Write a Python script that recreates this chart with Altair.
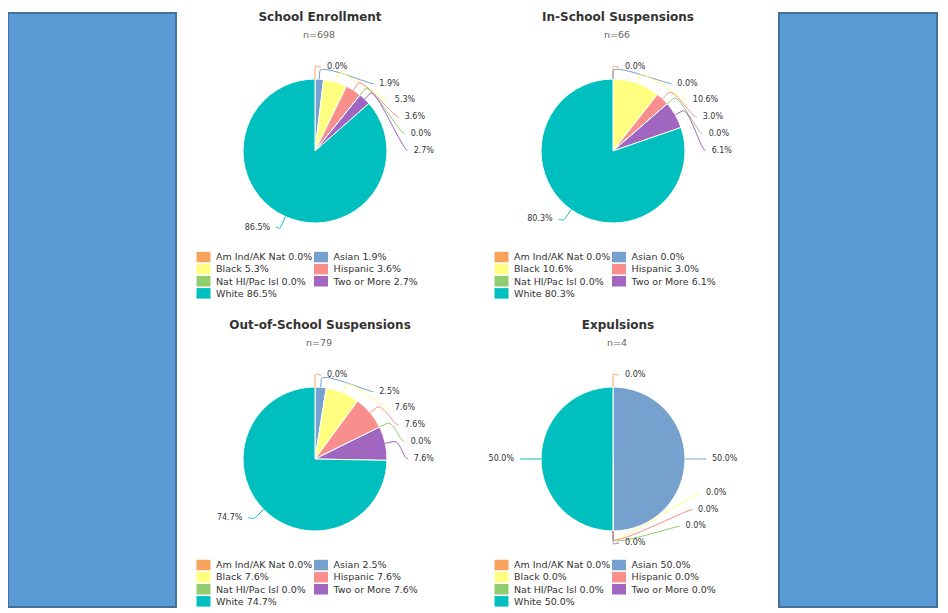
import math
import altair as alt
import pandas as pd

# ---------------- data ----------------
categories = ["Am Ind/AK Nat", "Asian", "Black", "Hispanic",
              "Nat HI/Pac Isl", "Two or More", "White"]
palette = ["#f8a35c", "#76a0ce", "#ffff80", "#f88f8c",
           "#90cd6e", "#a066c0", "#00bfbf"]
panel_titles = ["School Enrollment", "In-School Suspensions",
                "Out-of-School Suspensions", "Expulsions"]
panel_n = [698, 66, 79, 4]
enrollment_pct = [0.0, 1.9, 5.3, 3.6, 0.0, 2.7, 86.5]
in_school_pct = [0.0, 0.0, 10.6, 3.0, 0.0, 6.1, 80.3]
out_school_pct = [0.0, 2.5, 7.6, 7.6, 0.0, 7.6, 74.7]
expulsion_pct = [0.0, 50.0, 0.0, 0.0, 0.0, 0.0, 50.0]
series = [enrollment_pct, in_school_pct, out_school_pct, expulsion_pct]

# ---------------- layout constants (pixels) ----------------
W, H = 932, 600
centers = [(307, 143), (605, 143), (307, 451), (605, 451)]
R = 72            # pie radius
LABEL_RY = 84     # vertical reach of data labels
LABEL_RX = 99     # horizontal reach of moved data labels
NAT_R = 92        # natural label radius
STEP = 16.7       # min vertical distance between labels
FONT = "DejaVu Sans"

color_scale = alt.Scale(domain=categories, range=palette)

pie_rows, label_rows, conn_rows, leg_rows, title_rows = [], [], [], [], []

for p, (vals, (cx, cy)) in enumerate(zip(series, centers)):
    total = sum(vals)
    cum = 0.0
    items = []
    for i, v in enumerate(vals):
        pie_rows.append(dict(panel=p, idx=i, cat=categories[i], pct=v))
        a0 = cum / total * 2 * math.pi
        cum += v
        a1 = cum / total * 2 * math.pi
        am = (a0 + a1) / 2
        items.append(dict(i=i, am=am, right=am <= math.pi + 1e-9,
                          t=cy - LABEL_RY * math.cos(am)))
    for side in (True, False):
        grp = [o for o in items if o["right"] == side]
        grp.sort(key=lambda o: (round(o["t"], 6), o["am"] if side else -o["am"]))
        if not grp:
            continue
        lo, hi = cy - LABEL_RY, cy + LABEL_RY
        ys = []
        for o in grp:
            y = max(o["t"], lo)
            if ys:
                y = max(y, ys[-1] + STEP)
            ys.append(y)
        for k in range(len(ys) - 1, -1, -1):
            lim = hi if k == len(ys) - 1 else ys[k + 1] - STEP
            ys[k] = min(ys[k], lim)
        for k in range(len(ys)):
            lim = lo if k == 0 else ys[k - 1] + STEP
            ys[k] = max(ys[k], lim)
        sgn = 1 if side else -1
        for o, y in zip(grp, ys):
            am = o["am"]
            sa, ca = math.sin(am), math.cos(am)
            dy = y - cy
            if abs(y - o["t"]) < 0.5:
                if abs(sa) < 1e-6:
                    ex = cx + sgn * 12
                else:
                    ex = cx + NAT_R * sa + sgn * 7
            else:
                de = dy - 8 if dy < 0 else dy
                ex = cx + sgn * math.sqrt(max(LABEL_RX ** 2 - de ** 2, 0))
            i = o["i"]
            label_rows.append(dict(panel=p, cat=categories[i], right=side,
                                   lx=ex, ly=y, txt=f"{vals[i]:.1f}%"))
            # connector (soft bezier, Highcharts style)
            tx, ty = cx + R * sa, cy - R * ca
            bx, by = cx + (R + 8) * sa, cy - (R + 8) * ca
            p0x, p0y = ex - sgn * 6, y
            p1x, p1y = p0x - sgn * 5, p0y
            p2x, p2y = 2 * bx - tx, 2 * by - ty
            lid = f"{p}-{i}"
            n = 14
            for s in range(n + 1):
                t = s / n
                u = 1 - t
                qx = u**3 * p0x + 3 * u * u * t * p1x + 3 * u * t * t * p2x + t**3 * bx
                qy = u**3 * p0y + 3 * u * u * t * p1y + 3 * u * t * t * p2y + t**3 * by
                conn_rows.append(dict(lid=lid, seq=s, cat=categories[i], px=qx, py=qy))
            conn_rows.append(dict(lid=lid, seq=n + 1, cat=categories[i], px=tx, py=ty))
    # legend
    for i, v in enumerate(vals):
        row, col = divmod(i, 2)
        yc = cy + 106.3 + 12.1 * row
        sx = cx - 118.5 if col == 0 else cx - 1
        leg_rows.append(dict(panel=p, cat=categories[i],
                             x1=sx, x2=sx + 14, y1=yc - 5.5, y2=yc + 5,
                             tx=sx + 19.5, ty=yc,
                             txt=f"{categories[i]} {v:.1f}%"))
    title_rows.append(dict(panel=p, x=cx + 5, y=cy - 134, txt=panel_titles[p],
                           sx=cx + 4, sy=cy - 116, stxt=f"n={panel_n[p]}"))

pie_df = pd.DataFrame(pie_rows)
lab_df = pd.DataFrame(label_rows)
conn_df = pd.DataFrame(conn_rows)
leg_df = pd.DataFrame(leg_rows)
title_df = pd.DataFrame(title_rows)
side_df = pd.DataFrame(dict(x1=[0, 771], x2=[168, 929], y1=[5, 5], y2=[599, 599]))

xn = lambda f: alt.X(f"{f}:Q", scale=None, axis=None)
yn = lambda f: alt.Y(f"{f}:Q", scale=None, axis=None)

layers = []
layers.append(
    alt.Chart(side_df).mark_rect(fill="#5b9bd5", stroke="#41719c", strokeWidth=2)
    .encode(x=xn("x1"), x2="x2:Q", y=yn("y1"), y2="y2:Q")
)
for p, (cx, cy) in enumerate(centers):
    layers.append(
        alt.Chart(pie_df).transform_filter(alt.datum.panel == p)
        .mark_arc(outerRadius=R, stroke="white", strokeWidth=1)
        .encode(theta=alt.Theta("pct:Q", stack=True),
                order=alt.Order("idx:Q"),
                color=alt.Color("cat:N", scale=color_scale, legend=None),
                x=alt.value(cx), y=alt.value(cy))
    )
layers.append(
    alt.Chart(conn_df).mark_line(strokeWidth=1)
    .encode(x=xn("px"), y=yn("py"), detail="lid:N", order="seq:Q",
            color=alt.Color("cat:N", scale=color_scale, legend=None))
)
layers.append(
    alt.Chart(lab_df).transform_filter(alt.datum.right == True)
    .mark_text(align="left", baseline="middle", font=FONT, fontSize=8, color="#333333")
    .encode(x=xn("lx"), y=yn("ly"), text="txt:N")
)
layers.append(
    alt.Chart(lab_df).transform_filter(alt.datum.right == False)
    .mark_text(align="right", baseline="middle", font=FONT, fontSize=8, color="#333333")
    .encode(x=xn("lx"), y=yn("ly"), text="txt:N")
)
layers.append(
    alt.Chart(leg_df).mark_rect()
    .encode(x=xn("x1"), x2="x2:Q", y=yn("y1"), y2="y2:Q",
            color=alt.Color("cat:N", scale=color_scale, legend=None))
)
layers.append(
    alt.Chart(leg_df).mark_text(align="left", baseline="middle", font=FONT,
                                fontSize=9.5, color="#333333")
    .encode(x=xn("tx"), y=yn("ty"), text="txt:N")
)
layers.append(
    alt.Chart(title_df).mark_text(align="center", baseline="middle", font=FONT,
                                  fontSize=12, fontWeight="bold", color="#333333")
    .encode(x=xn("x"), y=yn("y"), text="txt:N")
)
layers.append(
    alt.Chart(title_df).mark_text(align="center", baseline="middle", font=FONT,
                                  fontSize=9.5, color="#666666")
    .encode(x=xn("sx"), y=yn("sy"), text="stxt:N")
)

chart = (
    alt.layer(*layers)
    .resolve_scale(theta="independent")
    .properties(width=W, height=H, padding=0,
                autosize=alt.AutoSizeParams(type="none"))
    .configure_view(stroke=None)
)

chart.save("out.html", embed_options={"renderer": "svg", "actions": False})
